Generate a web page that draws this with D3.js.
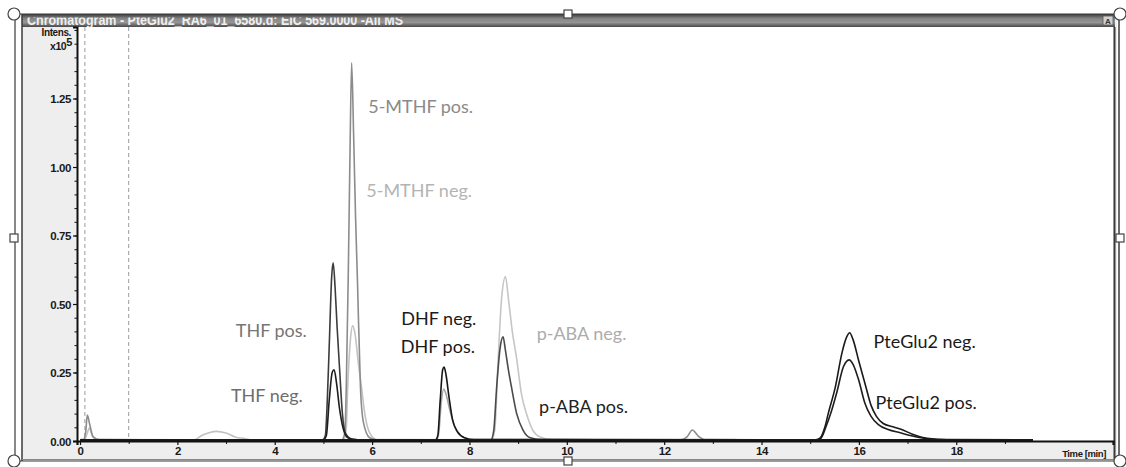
<!DOCTYPE html>
<html>
<head>
<meta charset="utf-8">
<script src="https://cdn.jsdelivr.net/npm/d3@7"></script>
<style>
  html, body { margin: 0; padding: 0; background: #ffffff; }
  svg { display: block; }
  .tick-label { font-family: "Liberation Sans", Arial, sans-serif; font-weight: bold; font-size: 11.5px; fill: #1a1a1a; letter-spacing: -0.4px; }
  .peak-label { font-family: Lato, "Open Sans", sans-serif; font-size: 18px; }
</style>
</head>
<body>
<svg id="chart" width="1126" height="467"></svg>
<script>
// ---- Window title -------------------------------------------------------
const chartTitle = "Chromatogram - PteGlu2_RA6_01_6580.d: EIC 569.0000 -All MS";

// ---- Axis ticks ---------------------------------------------------------
const yTickValues = [0, 0.25, 0.5, 0.75, 1.0, 1.25];
const yTickLabels = ["0.00", "0.25", "0.50", "0.75", "1.00", "1.25"];
const xTickValues = [0, 2, 4, 6, 8, 10, 12, 14, 16, 18];
const xTickLabels = ["0", "2", "4", "6", "8", "10", "12", "14", "16", "18"];
const markerTimes = [0.1, 1.0];   // dashed segment markers (min)

// ---- Extracted ion traces: [time (min), intensity (x10^5)] -------------
const mthfPos = [
  [0.0, 0.004], [0.08, 0.006], [0.12, 0.04], [0.15, 0.095], [0.2, 0.06], [0.27, 0.015], [0.4, 0.005],
  [5.38, 0.004], [5.44, 0.03], [5.47, 0.2], [5.51, 0.6], [5.55, 1.1], [5.58, 1.38], [5.62, 1.12],
  [5.66, 0.82], [5.7, 0.58], [5.76, 0.2], [5.82, 0.07], [5.95, 0.012], [6.1, 0.004],
  [12.35, 0.004], [12.47, 0.015], [12.58, 0.04], [12.7, 0.018], [12.85, 0.005], [19.57, 0.004]
];
const mthfNeg = [
  [0.0, 0.004], [0.1, 0.006], [0.15, 0.03], [0.19, 0.047], [0.25, 0.02], [0.35, 0.005],
  [2.35, 0.004], [2.5, 0.02], [2.65, 0.03], [2.8, 0.035], [3.0, 0.029], [3.2, 0.014], [3.35, 0.01], [3.55, 0.004],
  [5.42, 0.004], [5.47, 0.05], [5.5, 0.2], [5.55, 0.36], [5.6, 0.42], [5.65, 0.39], [5.72, 0.28],
  [5.78, 0.2], [5.85, 0.1], [5.95, 0.03], [6.1, 0.005], [19.57, 0.004]
];
const thfPos = [
  [0.0, 0.004], [4.98, 0.004], [5.04, 0.02], [5.08, 0.15], [5.12, 0.35], [5.17, 0.6], [5.2, 0.65],
  [5.24, 0.56], [5.28, 0.42], [5.33, 0.27], [5.39, 0.1], [5.45, 0.03], [5.6, 0.006], [5.8, 0.004],
  [19.57, 0.004]
];
const thfNeg = [
  [0.0, 0.004], [5.0, 0.004], [5.06, 0.02], [5.12, 0.15], [5.18, 0.25], [5.22, 0.26], [5.27, 0.21],
  [5.33, 0.12], [5.4, 0.05], [5.5, 0.012], [5.7, 0.004], [19.57, 0.004]
];
const dhfNeg = [
  [0.0, 0.004], [7.3, 0.004], [7.35, 0.02], [7.4, 0.15], [7.45, 0.26], [7.48, 0.27], [7.52, 0.24],
  [7.58, 0.16], [7.65, 0.08], [7.75, 0.035], [7.9, 0.012], [8.1, 0.005], [19.57, 0.004]
];
const dhfPos = [
  [0.0, 0.004], [7.32, 0.004], [7.37, 0.03], [7.42, 0.14], [7.47, 0.19], [7.52, 0.17], [7.6, 0.11],
  [7.7, 0.05], [7.85, 0.015], [8.05, 0.005], [19.57, 0.004]
];
const pabaNeg = [
  [0.0, 0.004], [8.45, 0.004], [8.52, 0.04], [8.59, 0.3], [8.66, 0.52], [8.74, 0.6], [8.8, 0.52],
  [8.88, 0.4], [8.97, 0.3], [9.07, 0.17], [9.17, 0.1], [9.3, 0.04], [9.45, 0.015], [9.7, 0.005],
  [19.57, 0.004]
];
const pabaPos = [
  [0.0, 0.004], [8.44, 0.004], [8.5, 0.04], [8.56, 0.2], [8.63, 0.34], [8.69, 0.38], [8.74, 0.33],
  [8.8, 0.26], [8.86, 0.2], [8.97, 0.1], [9.1, 0.04], [9.25, 0.012], [9.5, 0.005], [19.57, 0.004]
];
const pteGluNeg = [
  [0.0, 0.004], [15.1, 0.004], [15.2, 0.01], [15.3, 0.05], [15.37, 0.1], [15.52, 0.2], [15.65, 0.32],
  [15.75, 0.38], [15.81, 0.395], [15.88, 0.37], [16.0, 0.29], [16.14, 0.2], [16.25, 0.13],
  [16.36, 0.09], [16.5, 0.064], [16.7, 0.052], [16.85, 0.044], [17.1, 0.025], [17.4, 0.01],
  [17.8, 0.005], [19.57, 0.004]
];
const pteGluPos = [
  [0.0, 0.004], [15.12, 0.004], [15.22, 0.01], [15.32, 0.05], [15.42, 0.1], [15.55, 0.18],
  [15.68, 0.27], [15.8, 0.296], [15.88, 0.28], [16.0, 0.22], [16.12, 0.14], [16.25, 0.09],
  [16.4, 0.06], [16.6, 0.042], [16.85, 0.03], [17.1, 0.018], [17.4, 0.008], [17.8, 0.004],
  [19.57, 0.004]
];

// trace order (back to front) and stroke colours
const traces = [mthfNeg, pabaNeg, mthfPos, dhfPos, thfPos, pabaPos, thfNeg, dhfNeg, pteGluPos, pteGluNeg];
const traceColors = ["#c2c2c2", "#c6c6c6", "#8c8c8c", "#a4a4a4", "#3c3c3c", "#4a4a4a", "#1e1e1e", "#161616", "#1e1e1e", "#1a1a1a"];

// ---- Peak annotations (anchored in data units: time, intensity) ---------
const peakLabels = ["5-MTHF pos.", "5-MTHF neg.", "THF pos.", "THF neg.", "DHF neg.", "DHF pos.",
                    "p-ABA neg.", "p-ABA pos.", "PteGlu2 neg.", "PteGlu2 pos."];
const peakLabelTimes = [5.92, 5.88, 3.2, 3.1, 6.6, 6.59, 9.38, 9.43, 16.3, 16.34];
const peakLabelValues = [1.197, 0.891, 0.378, 0.142, 0.425, 0.322, 0.369, 0.103, 0.339, 0.115];
const peakLabelColors = ["#8a8a8a", "#b4b4b4", "#767676", "#6e6e6e", "#1a1a1a", "#1a1a1a",
                         "#acacac", "#222222", "#1a1a1a", "#1a1a1a"];

// ---- Layout -------------------------------------------------------------
const svg = d3.select("#chart");
const plot = { left: 77, right: 1113, top: 27, bottom: 441 };

const x = d3.scaleLinear().domain([-0.062, 21.22]).range([plot.left, plot.right]);
const y = d3.scaleLinear().domain([0, 1.511]).range([plot.bottom, plot.top]);

// window frame
svg.append("rect").attr("x", 22).attr("y", 14).attr("width", 1095).attr("height", 447)
  .attr("fill", "#eeeeee");
svg.append("rect").attr("x", plot.left).attr("y", plot.top)
  .attr("width", plot.right - plot.left).attr("height", plot.bottom - plot.top).attr("fill", "#ffffff");

// title bar
const defs = svg.append("defs");
const grad = defs.append("linearGradient").attr("id", "barGrad")
  .attr("x1", 0).attr("y1", 0).attr("x2", 0).attr("y2", 1);
grad.append("stop").attr("offset", "0%").attr("stop-color", "#3a3a3a");
grad.append("stop").attr("offset", "35%").attr("stop-color", "#858585");
grad.append("stop").attr("offset", "65%").attr("stop-color", "#959595");
grad.append("stop").attr("offset", "100%").attr("stop-color", "#484848");
defs.append("clipPath").attr("id", "barClip")
  .append("rect").attr("x", 22).attr("y", 17.5).attr("width", 1080).attr("height", 9.5);
defs.append("clipPath").attr("id", "plotClip")
  .append("rect").attr("x", plot.left).attr("y", plot.top)
  .attr("width", plot.right - plot.left).attr("height", plot.bottom - plot.top + 2);

svg.append("rect").attr("x", 22).attr("y", 14).attr("width", 1093).attr("height", 13)
  .attr("fill", "url(#barGrad)");
svg.append("text").attr("clip-path", "url(#barClip)")
  .attr("x", 27).attr("y", 24.5)
  .attr("font-family", "Liberation Sans, Arial, sans-serif").attr("font-weight", "bold")
  .attr("font-size", 14).attr("fill", "#f0f0f0").attr("textLength", 376)
  .attr("lengthAdjust", "spacingAndGlyphs")
  .text(chartTitle);
svg.append("rect").attr("x", 1103).attr("y", 16).attr("width", 10).attr("height", 9)
  .attr("fill", "#d0d0d0").attr("stroke", "#555").attr("stroke-width", 0.8);
svg.append("text").attr("x", 1108).attr("y", 24).attr("text-anchor", "middle")
  .attr("font-family", "Liberation Sans, Arial, sans-serif").attr("font-weight", "bold")
  .attr("font-size", 8).attr("fill", "#333").text("A");

// frame lines
const frame = svg.append("g").attr("stroke", "#3a3a3a").attr("fill", "none");
frame.append("line").attr("x1", 15).attr("x2", 15).attr("y1", 14).attr("y2", 461).attr("stroke-width", 1.2);
frame.append("line").attr("x1", 22).attr("x2", 22).attr("y1", 14).attr("y2", 461).attr("stroke-width", 1.5);
frame.append("line").attr("x1", 15).attr("x2", 1120).attr("y1", 14).attr("y2", 14).attr("stroke-width", 1.2);
frame.append("line").attr("x1", 15).attr("x2", 1120).attr("y1", 461).attr("y2", 461).attr("stroke-width", 1.2);
frame.append("line").attr("x1", 1114.5).attr("x2", 1114.5).attr("y1", 27).attr("y2", 459).attr("stroke-width", 2);
frame.append("line").attr("x1", 1119).attr("x2", 1119).attr("y1", 14).attr("y2", 461).attr("stroke-width", 1.5);
frame.append("line").attr("x1", 22).attr("x2", 1115).attr("y1", 459.5).attr("y2", 459.5).attr("stroke-width", 1).attr("stroke", "#888");

// dashed markers
svg.append("g").selectAll("line").data(markerTimes).join("line")
  .attr("x1", d => x(d)).attr("x2", d => x(d))
  .attr("y1", plot.top).attr("y2", plot.bottom)
  .attr("stroke", "#9a9a9a").attr("stroke-width", 1).attr("stroke-dasharray", "4,3");

// traces
const line = d3.line().x(d => x(d[0])).y(d => y(d[1])).curve(d3.curveMonotoneX);
svg.append("g").attr("clip-path", "url(#plotClip)")
  .selectAll("path").data(traces).join("path")
  .attr("d", line)
  .attr("fill", "none")
  .attr("stroke", (d, i) => traceColors[i])
  .attr("stroke-width", 1.6)
  .attr("stroke-linejoin", "round");

// y axis
const yAxis = d3.axisLeft(y).tickValues(yTickValues).tickFormat((d, i) => yTickLabels[i])
  .tickSize(4).tickPadding(2);
const gy = svg.append("g").attr("transform", `translate(${plot.left},0)`).call(yAxis);
gy.select(".domain").attr("stroke", "#111").attr("stroke-width", 2);
gy.selectAll(".tick line").attr("stroke", "#111").attr("stroke-width", 1.2);
gy.selectAll(".tick text").attr("class", "tick-label").attr("dy", "0.35em");
// minor y ticks
const gyMinor = d3.axisLeft(y).tickValues(d3.range(0, 1.51, 0.05)).tickFormat("").tickSize(2.5);
svg.append("g").attr("transform", `translate(${plot.left},0)`).call(gyMinor)
  .call(g => g.select(".domain").remove())
  .selectAll(".tick line").attr("stroke", "#111");

// x axis
const xAxis = d3.axisBottom(x).tickValues(xTickValues).tickFormat((d, i) => xTickLabels[i])
  .tickSize(4).tickPadding(2);
const gx = svg.append("g").attr("transform", `translate(0,${plot.bottom})`).call(xAxis);
gx.select(".domain").attr("stroke", "#111").attr("stroke-width", 2.2);
gx.selectAll(".tick line").attr("stroke", "#111").attr("stroke-width", 1.2);
gx.selectAll(".tick text").attr("class", "tick-label");
const gxMinor = d3.axisBottom(x).tickValues(d3.range(1, 20, 2)).tickFormat("").tickSize(3);
svg.append("g").attr("transform", `translate(0,${plot.bottom})`).call(gxMinor)
  .call(g => g.select(".domain").remove())
  .selectAll(".tick line").attr("stroke", "#111");

// axis titles
svg.append("text").attr("class", "tick-label").attr("x", 71).attr("y", 36)
  .attr("text-anchor", "end").style("font-size", "10px").text("Intens.");
const yUnit = svg.append("text").attr("class", "tick-label").attr("x", 72).attr("y", 50)
  .attr("text-anchor", "end");
yUnit.append("tspan").style("font-size", "10.5px").text("x10");
yUnit.append("tspan").attr("dy", -4).style("font-size", "11px").text("5");
svg.append("text").attr("class", "tick-label").attr("x", 1106).attr("y", 457)
  .attr("text-anchor", "end").style("font-size", "9.5px").text("Time [min]");

// peak labels
svg.append("g").selectAll("text").data(peakLabels).join("text")
  .attr("class", "peak-label")
  .attr("x", (d, i) => x(peakLabelTimes[i]))
  .attr("y", (d, i) => y(peakLabelValues[i]))
  .attr("fill", (d, i) => peakLabelColors[i])
  .text(d => d);

// selection handles
const handleCircles = [[14, 14], [1120, 14], [14, 461], [1120, 461]];
const handleSquares = [[568, 14], [14, 238], [1120, 238], [568, 461]];
svg.append("g").selectAll("circle").data(handleCircles).join("circle")
  .attr("cx", d => d[0]).attr("cy", d => d[1]).attr("r", 6)
  .attr("fill", "#fff").attr("stroke", "#444").attr("stroke-width", 1.2);
svg.append("g").selectAll("rect").data(handleSquares).join("rect")
  .attr("x", d => d[0] - 4).attr("y", d => d[1] - 4).attr("width", 8).attr("height", 8)
  .attr("fill", "#fff").attr("stroke", "#444").attr("stroke-width", 1.2);
</script>
</body>
</html>
